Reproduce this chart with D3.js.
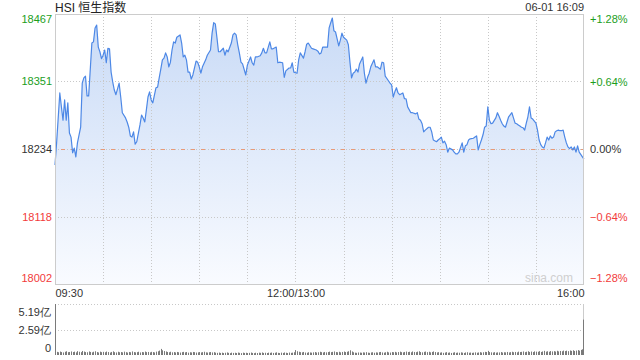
<!DOCTYPE html>
<html><head><meta charset="utf-8">
<script src="https://cdn.jsdelivr.net/npm/d3@7"></script>
<style>
html,body{margin:0;padding:0;background:#fff;}
svg{display:block;font-family:"Liberation Sans",Arial,"Noto Sans CJK SC",sans-serif;}
</style></head><body><svg id="c" width="640" height="360"></svg>
<script>
const title = "HSI 恒生指数";
const stamp = "06-01 16:09";
const watermark = "sina.com";
const priceTicks = [18467, 18351, 18234, 18118, 18002];
const pctTicks = [1.28, 0.64, 0, -0.64, -1.28];
const timeTicks = [0, 150, 330];
const timeLabels = ["09:30", "12:00/13:00", "16:00"];
const volTicks = [0, 2.59, 5.19];
const volLabels = ["0", "2.59亿", "5.19亿"];

// trading minute since 09:30 (lunch break removed)
const minutes = [
  0,1,3,4,5,6,7,8,9,10,
  11,12,13,14,16,17,18,19,20,21,
  23,24,25,26,27,28,29,30,31,32,
  33,34,35,36,37,38,40,41,42,44,
  45,46,47,48,49,50,51,53,54,55,
  56,57,58,59,60,61,63,64,65,66,
  67,68,69,70,71,72,73,74,75,76,
  78,79,80,81,82,83,84,85,86,88,
  89,90,91,92,94,95,97,98,99,100,
  101,102,103,105,106,107,108,110,111,112,
  113,114,115,116,117,119,120,122,123,124,
  125,126,128,129,130,131,132,134,135,136,
  138,139,140,142,143,144,146,147,148,149,
  151,152,153,155,156,157,158,160,161,163,
  164,165,166,167,168,170,171,172,173,174,
  175,176,177,178,179,180,182,183,184,185,
  186,187,188,189,190,192,193,194,195,196,
  197,199,200,201,202,203,204,205,206,208,
  209,210,211,212,213,214,215,217,218,219,
  220,222,223,225,226,227,228,229,230,231,
  233,234,235,236,238,239,240,241,242,243,
  244,245,246,248,249,250,251,252,254,255,
  256,257,258,259,261,262,263,264,265,266,
  267,268,269,270,271,272,273,275,276,277,
  278,279,280,281,282,283,285,286,287,288,
  289,290,291,292,293,294,295,296,297,298,
  300,301,302,303,304,305,306,307,308,309,
  310,311,312,313,314,315,316,317,318,319,
  320,321,322,323,324,325,326,327,329,330
];
const prices = [
  18207,18245,18331,18307,18284,18319,18284,18314,18262,18255,
  18228,18236,18221,18245,18272,18348,18357,18360,18326,18326,
  18417,18419,18443,18448,18410,18402,18390,18396,18405,18383,
  18408,18407,18367,18350,18336,18328,18348,18324,18297,18288,
  18281,18272,18257,18255,18264,18243,18247,18276,18293,18288,
  18281,18302,18324,18333,18319,18314,18340,18341,18357,18372,
  18388,18391,18400,18393,18376,18384,18405,18419,18417,18427,
  18431,18417,18393,18396,18388,18367,18367,18355,18362,18386,
  18384,18376,18365,18376,18388,18396,18405,18434,18452,18450,
  18427,18402,18402,18408,18396,18405,18402,18417,18431,18434,
  18431,18414,18400,18384,18381,18362,18379,18393,18383,18379,
  18393,18393,18395,18400,18408,18400,18400,18419,18407,18407,
  18410,18383,18384,18383,18358,18369,18374,18374,18383,18367,
  18365,18388,18400,18391,18402,18415,18417,18408,18407,18405,
  18403,18398,18400,18410,18410,18410,18443,18452,18460,18438,
  18436,18424,18412,18422,18434,18427,18422,18414,18384,18357,
  18365,18367,18372,18367,18381,18393,18365,18348,18358,18365,
  18376,18388,18376,18376,18374,18372,18384,18383,18360,18352,
  18348,18345,18324,18333,18340,18331,18328,18331,18321,18321,
  18307,18297,18297,18295,18297,18286,18284,18278,18264,18267,
  18272,18272,18264,18250,18247,18250,18252,18255,18245,18248,
  18242,18229,18236,18233,18229,18226,18226,18229,18245,18229,
  18240,18242,18250,18252,18253,18255,18257,18233,18242,18250,
  18259,18272,18274,18307,18284,18278,18279,18288,18297,18291,
  18284,18278,18274,18272,18281,18290,18297,18288,18279,18278,
  18276,18274,18272,18271,18267,18279,18290,18307,18288,18286,
  18279,18267,18250,18242,18238,18236,18245,18255,18250,18257,
  18253,18255,18264,18266,18267,18266,18266,18267,18255,18245,
  18238,18235,18238,18233,18238,18229,18240,18229,18221,18217
];
// volume per trading minute, in 亿
const volumes = [
  5.19,.32,.28,.35,.30,.26,.33,.38,.29,.31,
  .36,.30,.34,.27,.39,.33,.29,.41,.35,.30,
  .28,.36,.31,.27,.33,.38,.30,.26,.34,.29,
  .32,.28,.35,.30,.25,.31,.37,.29,.26,.33,
  .28,.30,.27,.34,.29,.25,.31,.28,.36,.30,
  .27,.29,.33,.26,.30,.28,.35,.29,.31,.27,
  .32,.30,.26,.34,.38,.45,.62,.48,.40,.36,
  .31,.28,.33,.27,.30,.26,.31,.28,.25,.29,
  .32,.27,.30,.24,.28,.26,.31,.29,.25,.27,
  .30,.26,.29,.33,.27,.25,.28,.30,.26,.29,
  .24,.22,.25,.21,.24,.20,.23,.26,.22,.19,
  .24,.21,.23,.20,.25,.22,.19,.24,.21,.23,
  .20,.22,.25,.21,.19,.23,.20,.24,.22,.26,
  .21,.23,.20,.24,.22,.25,.21,.23,.27,.22,
  .20,.24,.21,.26,.23,.20,.25,.22,.24,.28,
  .50,.38,.33,.29,.27,.31,.25,.23,.28,.26,
  .24,.27,.30,.25,.28,.33,.29,.26,.31,.27,
  .30,.34,.29,.32,.36,.30,.28,.33,.27,.31,
  .35,.30,.33,.38,.48,.36,.28,.24,.22,.26,
  .25,.23,.27,.25,.29,.24,.22,.26,.28,.23,
  .27,.25,.29,.31,.26,.24,.28,.33,.27,.25,
  .30,.28,.32,.26,.30,.34,.29,.27,.31,.35,
  .30,.33,.28,.36,.31,.29,.34,.38,.30,.27,
  .32,.35,.29,.33,.27,.31,.36,.30,.26,.29,
  .24,.27,.22,.25,.29,.23,.26,.21,.24,.28,
  .22,.25,.23,.27,.24,.21,.26,.28,.23,.25,
  .22,.24,.27,.23,.26,.29,.25,.28,.32,.30,
  .42,.30,.27,.25,.29,.24,.27,.26,.30,.25,
  .28,.27,.31,.26,.29,.33,.28,.31,.27,.34,
  .30,.32,.36,.29,.33,.38,.31,.35,.30,.37,
  .34,.33,.39,.31,.36,.42,.34,.38,.33,.40,
  .36,.39,.35,.43,.37,.41,.38,.45,.40,.44,
  .39,.46,.42,.48,.41,.45,.50,.44,.52,.58,
  3.60
];

const GREEN = "#1c9e1c", RED = "#f23b3b", DARK = "#333";
const L = 55, R = 584, T = 14, B = 284, VT = 304, VB = 355;
const svg = d3.select("#c");

const x = d3.scaleLinear().domain([0, 330]).range([L, R]);
const y = d3.scaleLinear().domain([priceTicks[4], priceTicks[0]]).range([B, T]);
const yp = d3.scaleLinear().domain([pctTicks[4], pctTicks[0]]).range([B, T]);
const vy = d3.scaleLinear().domain([0, volTicks[2]]).range([VB, VT]);

const data = minutes.map((m, i) => ({m, v: prices[i]}));

// gradient
const defs = svg.append("defs");
const g = defs.append("linearGradient").attr("id", "fillg")
  .attr("gradientUnits", "userSpaceOnUse").attr("x1", 0).attr("x2", 0).attr("y1", T).attr("y2", B);
g.append("stop").attr("offset", 0).attr("stop-color", "#c8daf6");
g.append("stop").attr("offset", 1).attr("stop-color", "#f9fbff");

// area
svg.append("path").datum(data)
  .attr("d", d3.area().x(d => x(d.m)).y0(B).y1(d => y(d.v)))
  .attr("fill", "url(#fillg)");

// grid
const grid = svg.append("g").attr("stroke", "#c8c8c8").attr("stroke-width", 1).attr("stroke-dasharray", "1,2");
d3.range(30, 330, 30).forEach(m => {
  grid.append("line").attr("x1", Math.round(x(m)) + 0.5).attr("x2", Math.round(x(m)) + 0.5)
    .attr("y1", T).attr("y2", B);
});
[priceTicks[1], priceTicks[2], priceTicks[3]].forEach(p => {
  grid.append("line").attr("x1", L).attr("x2", R)
    .attr("y1", Math.round(y(p)) + 0.5).attr("y2", Math.round(y(p)) + 0.5);
});
// previous close dashed
svg.append("line").attr("x1", L + 6).attr("x2", R)
  .attr("y1", Math.round(y(priceTicks[2])) + 0.5).attr("y2", Math.round(y(priceTicks[2])) + 0.5)
  .attr("stroke", "#e89a78").attr("stroke-width", 1).attr("stroke-dasharray", "4,6");

// line
svg.append("path").datum(data)
  .attr("d", d3.line().x(d => x(d.m)).y(d => y(d.v)))
  .attr("fill", "none").attr("stroke", "#4d88e6").attr("stroke-width", 1.2).attr("stroke-linejoin", "round");

// frame
svg.append("rect").attr("x", L + 0.5).attr("y", T + 0.5).attr("width", R - L - 1).attr("height", B - T)
  .attr("fill", "none").attr("stroke", "#cccccc");

// watermark
svg.append("text").attr("x", 573).attr("y", 282).attr("text-anchor", "end")
  .attr("font-size", 12).attr("fill", "#cfcfcf").text(watermark);

// axes styling helper
function clean(sel) {
  sel.select(".domain").remove();
  sel.selectAll(".tick line").remove();
  sel.selectAll("text").attr("font-size", 11).attr("font-family", null);
}
const colorFor = v => v > 0 ? GREEN : v < 0 ? RED : DARK;

const ax = svg.append("g").attr("transform", `translate(${L},0)`)
  .call(d3.axisLeft(y).tickValues(priceTicks).tickSize(0).tickPadding(3).tickFormat(d3.format("d")));
clean(ax);
ax.selectAll("text").attr("fill", d => colorFor(d - priceTicks[2]))
  .attr("y", d => d === priceTicks[0] ? 5 : d === priceTicks[4] ? -6 : 0);

const axr = svg.append("g").attr("transform", `translate(${R},0)`)
  .call(d3.axisRight(yp).tickValues(pctTicks).tickSize(0).tickPadding(6)
    .tickFormat(d => (d > 0 ? "+" : "") + d3.format(".2f")(d) + "%"));
clean(axr);
axr.selectAll("text").attr("fill", d => colorFor(d))
  .attr("y", d => d === pctTicks[0] ? 5 : d === pctTicks[4] ? -6 : 0);

const axb = svg.append("g").attr("transform", `translate(0,${B})`)
  .call(d3.axisBottom(x).tickValues(timeTicks).tickSize(0).tickPadding(5).tickFormat((d, i) => timeLabels[i]));
clean(axb);
axb.selectAll("text").attr("fill", DARK)
  .attr("text-anchor", (d, i) => i === 0 ? "start" : i === timeTicks.length - 1 ? "end" : "middle");

// title & stamp
svg.append("text").attr("x", L).attr("y", 12).attr("font-size", 12).attr("fill", "#222").text(title);
svg.append("text").attr("x", R).attr("y", 11).attr("text-anchor", "end").attr("font-size", 11).attr("fill", DARK).text(stamp);

// volume panel
const vg = svg.append("g").attr("stroke", "#c8c8c8").attr("stroke-dasharray", "1,2");
[volTicks[2], volTicks[1]].forEach(v => {
  vg.append("line").attr("x1", L).attr("x2", R).attr("y1", Math.round(vy(v)) + 0.5).attr("y2", Math.round(vy(v)) + 0.5);
});
svg.append("line").attr("x1", R - 0.5).attr("x2", R - 0.5).attr("y1", VT).attr("y2", VB).attr("stroke", "#cccccc");
svg.append("line").attr("x1", L + 0.5).attr("x2", L + 0.5).attr("y1", VT).attr("y2", VB).attr("stroke", "#cccccc");

svg.append("g").selectAll("rect").data(volumes).join("rect")
  .attr("x", (d, i) => Math.min(Math.round(x(i)), R - 1))
  .attr("width", 1)
  .attr("y", d => vy(d))
  .attr("height", d => VB - vy(d))
  .attr("fill", "#7a7a7a");

const axv = svg.append("g").attr("transform", `translate(${L},0)`)
  .call(d3.axisLeft(vy).tickValues(volTicks).tickSize(0).tickPadding(4).tickFormat((d, i) => volLabels[i]));
clean(axv);
axv.selectAll("text").attr("fill", DARK)
  .attr("y", d => d === volTicks[2] ? 8 : d === volTicks[0] ? -7 : 0);
</script></body></html>
